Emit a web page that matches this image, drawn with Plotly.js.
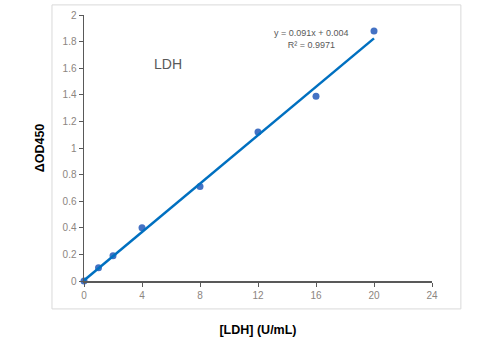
<!DOCTYPE html>
<html>
<head>
<meta charset="utf-8">
<script src="https://cdn.plot.ly/plotly-3.0.1.min.js"></script>
<style>html,body{margin:0;padding:0;background:#fff;}#chart{width:498px;height:351px;}</style>
</head>
<body>
<div id="chart"></div>
<script>
const concentration = [0, 1, 2, 4, 8, 12, 16, 20];
const deltaOD450 = [0, 0.10, 0.19, 0.40, 0.71, 1.12, 1.39, 1.88];
const fitSlope = 0.091;
const fitIntercept = 0.004;
const fitRange = [0, 20];
const fitLabel = ['y = 0.091x + 0.004', 'R² = 0.9971'];
const xTicks = [0, 4, 8, 12, 16, 20, 24];
const yTicks = [0, 0.2, 0.4, 0.6, 0.8, 1, 1.2, 1.4, 1.6, 1.8, 2];

const fitY = fitRange.map(x => fitSlope * x + fitIntercept);

const tickFont = {family: 'Liberation Sans, Arial, sans-serif', size: 10, color: '#8c8580'};
const titleFont = {family: 'Liberation Sans, Arial, sans-serif', size: 12.5, color: '#000', weight: 'bold'};

const traces = [
  {x: concentration, y: deltaOD450, mode: 'markers', type: 'scatter',
   marker: {color: '#4472c4', size: 7}, cliponaxis: false, hoverinfo: 'x+y'},
  {x: fitRange, y: fitY, mode: 'lines', type: 'scatter',
   line: {color: '#0070c0', width: 2.5}, cliponaxis: false, hoverinfo: 'skip'}
];

const layout = {
  width: 498, height: 351,
  margin: {l: 84, r: 66, t: 15, b: 70},
  paper_bgcolor: '#fff', plot_bgcolor: '#fff',
  showlegend: false,
  xaxis: {
    range: [0, 24], tickvals: xTicks, ticks: 'outside', ticklen: 4, tickcolor: '#595959',
    showline: true, linecolor: '#595959', linewidth: 1.5, showgrid: false, zeroline: false,
    tickfont: tickFont,
    title: {text: '[LDH] (U/mL)', font: titleFont, standoff: 25}
  },
  yaxis: {
    range: [0, 2], tickvals: yTicks, ticks: 'outside', ticklen: 4, tickcolor: '#595959',
    showline: true, linecolor: '#595959', linewidth: 1.5, showgrid: false, zeroline: false,
    tickfont: tickFont,
    title: {text: '\u0394OD450', font: titleFont, standoff: 15}
  },
  shapes: [
    {type: 'rect', xref: 'paper', yref: 'paper', x0: -0.092, x1: 1.083, y0: -0.105, y1: 1.038,
     line: {color: '#d9d9d9', width: 1}, layer: 'below'}
  ],
  annotations: [
    {text: 'LDH', xref: 'x', yref: 'y', x: 5.8, y: 1.635, showarrow: false,
     font: {family: 'Liberation Sans, Arial, sans-serif', size: 14, color: '#595959'}},
    {text: fitLabel.join('<br>'), xref: 'x', yref: 'y', x: 15.7, y: 1.82, showarrow: false,
     font: {family: 'Liberation Sans, Arial, sans-serif', size: 9, color: '#595959'}, align: 'center'}
  ]
};

Plotly.newPlot('chart', traces, layout, {displayModeBar: false, staticPlot: true});
</script>
</body>
</html>
